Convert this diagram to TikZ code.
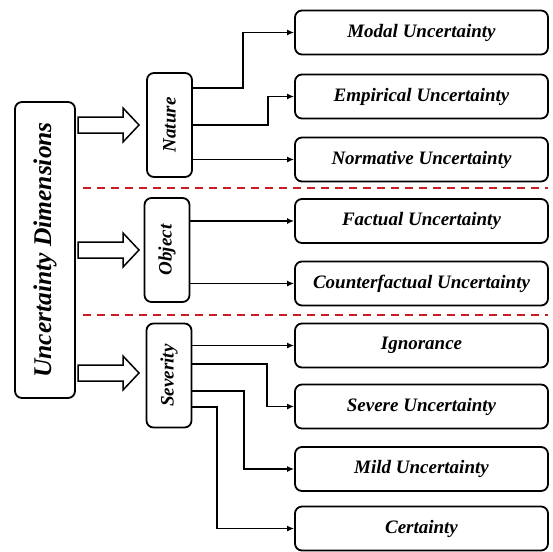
\documentclass[tikz,border=0pt]{standalone}
\usepackage{fontspec}
\setmainfont{Liberation Serif}
\usetikzlibrary{arrows.meta,calc}
\definecolor{dashred}{RGB}{200,30,35}
\tikzset{
  box/.style={draw, line width=1.8pt, rounded corners=7pt, inner sep=0pt, font=\fontsize{19}{22}\selectfont\bfseries\itshape},
  leaf/.style={box, minimum width=253pt, minimum height=44pt},
  cat/.style={box, minimum width=45pt, minimum height=104pt},
  conn/.style={line width=1.6pt, -{Latex[length=7pt,width=6pt]}},
  fat/.style={draw, line width=1.5pt, fill=white},
  sep/.style={dashred, line width=1.8pt, dash pattern=on 8pt off 6pt}
}
\begin{document}
\begin{tikzpicture}[x=1pt,y=-1pt]
\useasboundingbox (0,0) rectangle (553,551);
% root
\node[box, minimum width=60pt, minimum height=296pt] (root) at (45,250)
  {\rotatebox{90}{\fontsize{25.5}{28}\selectfont Uncertainty Dimensions}};
% categories
\node[cat] (nat) at (169.5,125) {\rotatebox{90}{Nature}};
\node[cat] (obj) at (167,250) {\rotatebox{90}{Object}};
\node[cat] (sev) at (169,375.5) {\rotatebox{90}{Severity}};
% leaves
\node[leaf] (modal) at (421.5,32.5) {Modal Uncertainty};
\node[leaf] (emp) at (421.5,96.5) {Empirical Uncertainty};
\node[leaf] (norm) at (421.5,159.5) {Normative Uncertainty};
\node[leaf] (fact) at (421.5,221) {Factual Uncertainty};
\node[leaf] (cf) at (421.5,283.5) {Counterfactual Uncertainty};
\node[leaf] (ign) at (421.5,345.5) {Ignorance};
\node[leaf] (sevu) at (421.5,406.5) {Severe Uncertainty};
\node[leaf] (mild) at (421.5,469) {Mild Uncertainty};
\node[leaf] (cert) at (421.5,528.5) {Certainty};
% separators
\coordinate (s1a) at (83,188); \coordinate (s1b) at (548,188);
\coordinate (s2a) at (83,315); \coordinate (s2b) at (548,315);
\draw[sep] (s1a) -- (s1b);
\draw[sep] (s2a) -- (s2b);
% hollow arrows
\foreach \yy in {125,250,373}{
  \draw[fat] (78,\yy-8) -- (123,\yy-8) -- (123,\yy-17) -- (139,\yy) -- (123,\yy+17) -- (123,\yy+8) -- (78,\yy+8) -- cycle;
}
% Nature connectors
\draw[conn] (nat.east |- 0,88) -| (243,0 |- modal.west) -- (modal.west);
\draw[conn] (nat.east |- 0,125) -| (268,0 |- emp.west) -- (emp.west);
\draw[conn] (nat.east |- norm.west) -- (norm.west);
% Object connectors
\draw[conn] (obj.east |- fact.west) -- (fact.west);
\draw[conn] (obj.east |- cf.west) -- (cf.west);
% Severity connectors
\draw[conn] (sev.east |- ign.west) -- (ign.west);
\draw[conn] (sev.east |- 0,364) -| (267,0 |- sevu.west) -- (sevu.west);
\draw[conn] (sev.east |- 0,391) -| (244,0 |- mild.west) -- (mild.west);
\draw[conn] (sev.east |- 0,407) -| (217,0 |- cert.west) -- (cert.west);
\end{tikzpicture}
\end{document}
